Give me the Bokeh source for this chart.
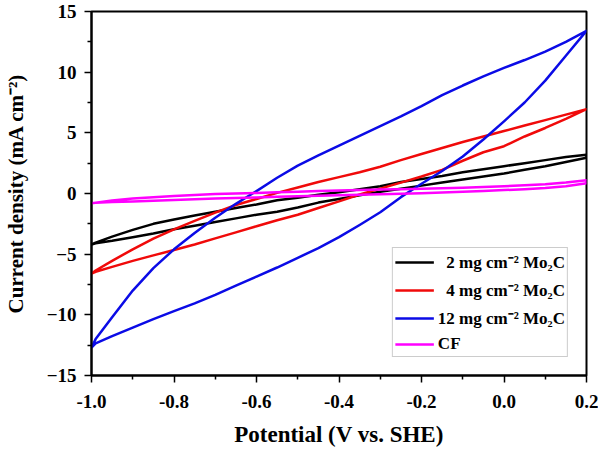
from bokeh.plotting import figure
from bokeh.models import Range1d, FixedTicker, NumeralTickFormatter, Legend, LegendItem
from bokeh.embed import file_html
from bokeh.resources import INLINE

# Potential grid (V vs. SHE)
potential = [-1.0, -0.99, -0.95, -0.9, -0.85, -0.8, -0.75, -0.7, -0.65, -0.6, -0.55, -0.5,
             -0.45, -0.4, -0.35, -0.3, -0.25, -0.2, -0.15, -0.1, -0.05, 0.0, 0.05, 0.1, 0.15, 0.2]

# Current density (mA cm^-2): anodic (forward) and cathodic (reverse) branches
mo2c_12_fwd = [-12.7, -12.0, -10.2, -8.0, -6.15, -4.6, -3.25, -2.0, -0.85, 0.2, 1.3, 2.3,
               3.15, 3.95, 4.75, 5.55, 6.35, 7.2, 8.1, 8.9, 9.65, 10.35, 11.0, 11.7, 12.5, 13.4]
mo2c_12_rev = [-12.7, -12.35, -11.75, -11.05, -10.35, -9.7, -9.05, -8.35, -7.6, -6.85, -6.1, -5.3,
               -4.5, -3.6, -2.6, -1.55, -0.3, 0.8, 1.85, 3.05, 4.45, 5.95, 7.5, 9.3, 11.35, 13.4]

mo2c_4_fwd = [-6.6, -6.35, -5.55, -4.6, -3.72, -2.95, -2.25, -1.58, -0.95, -0.45, 0.05, 0.5,
              0.95, 1.35, 1.75, 2.2, 2.75, 3.25, 3.75, 4.25, 4.7, 5.15, 5.6, 6.05, 6.5, 6.95]
mo2c_4_rev = [-6.6, -6.45, -6.05, -5.55, -5.1, -4.65, -4.2, -3.7, -3.2, -2.7, -2.2, -1.75,
              -1.2, -0.65, -0.08, 0.4, 0.9, 1.4, 1.95, 2.7, 3.4, 3.9, 4.7, 5.4, 6.15, 6.95]

mo2c_2_fwd = [-4.2, -4.05, -3.55, -3.0, -2.5, -2.15, -1.82, -1.5, -1.2, -0.9, -0.55, -0.35,
              -0.1, 0.1, 0.35, 0.6, 0.95, 1.2, 1.45, 1.75, 2.0, 2.25, 2.5, 2.75, 3.0, 3.2]
mo2c_2_rev = [-4.2, -4.1, -3.9, -3.6, -3.3, -2.95, -2.65, -2.35, -2.05, -1.75, -1.5, -1.15,
              -0.75, -0.45, -0.15, 0.15, 0.4, 0.65, 0.9, 1.15, 1.4, 1.65, 1.95, 2.25, 2.6, 2.95]

cf_fwd = [-0.8, -0.76, -0.58, -0.42, -0.3, -0.2, -0.12, -0.05, 0.0, 0.05, 0.1, 0.15,
          0.2, 0.24, 0.28, 0.32, 0.36, 0.4, 0.44, 0.48, 0.53, 0.6, 0.67, 0.76, 0.9, 1.1]
cf_rev = [-0.8, -0.77, -0.71, -0.65, -0.59, -0.53, -0.48, -0.42, -0.37, -0.32, -0.27, -0.22,
          -0.18, -0.14, -0.1, -0.06, -0.02, 0.03, 0.08, 0.14, 0.2, 0.28, 0.35, 0.45, 0.6, 0.85]

series_labels = ["\u20072 mg cm\u207b\u00b2 Mo\u2082C",
                 "\u20074 mg cm\u207b\u00b2 Mo\u2082C",
                 "12 mg cm\u207b\u00b2 Mo\u2082C",
                 "CF"]
series_colors = ["#000000", "#f00a0a", "#0b0be6", "#ff00ff"]

x_ticks = [-1.0, -0.8, -0.6, -0.4, -0.2, 0.0, 0.2]
x_minor = [-0.9, -0.7, -0.5, -0.3, -0.1, 0.1]
y_ticks = [-15, -10, -5, 0, 5, 10, 15]
y_minor = [-12.5, -7.5, -2.5, 2.5, 7.5, 12.5]

x_title = "Potential (V vs. SHE)"
y_title = "Current density (mA cm\u207b\u00b2)"

FONT = "Liberation Serif"

p = figure(width=598, height=449, output_backend="svg", toolbar_location=None,
           x_range=Range1d(-1.0, 0.2), y_range=Range1d(-15, 15),
           min_border_left=91, min_border_right=12, min_border_top=11, min_border_bottom=72)
p.xgrid.visible = False
p.ygrid.visible = False
p.outline_line_color = "black"
p.outline_line_width = 2
p.outline_line_alpha = 1.0

items = []
branches = [(mo2c_2_fwd, mo2c_2_rev), (mo2c_4_fwd, mo2c_4_rev),
            (mo2c_12_fwd, mo2c_12_rev), (cf_fwd, cf_rev)]
for (fwd, rev), lab, col in zip(branches, series_labels, series_colors):
    xs = potential + potential[::-1]
    ys = fwd + rev[::-1]
    r = p.line(xs, ys, line_color=col, line_width=2.5, line_join="round")
    items.append(LegendItem(label=lab, renderers=[r]))

legend = Legend(items=items, location="bottom_right", margin=18)
legend.label_text_font = FONT
legend.label_text_font_style = "bold"
legend.label_text_font_size = "17px"
legend.label_text_color = "black"
legend.glyph_width = 39
legend.glyph_height = 20
legend.label_height = 20
legend.spacing = 5
legend.padding = 2
legend.label_standoff = 4
legend.border_line_color = "#9a9a9a"
legend.border_line_width = 1.2
legend.background_fill_alpha = 1.0
p.add_layout(legend, "center")

p.xaxis.ticker = FixedTicker(ticks=x_ticks, minor_ticks=x_minor)
p.yaxis.ticker = FixedTicker(ticks=y_ticks, minor_ticks=y_minor)
p.xaxis.formatter = NumeralTickFormatter(format="0.0")

for ax in (p.xaxis[0], p.yaxis[0]):
    ax.axis_line_width = 2
    ax.major_tick_line_width = 1.5
    ax.minor_tick_line_width = 1.5
    ax.major_tick_in = 0
    ax.major_tick_out = 7
    ax.minor_tick_in = 0
    ax.minor_tick_out = 4
    ax.major_label_text_font = FONT
    ax.major_label_text_font_style = "bold"
    ax.major_label_text_font_size = "19px"
    ax.major_label_text_color = "black"
    ax.axis_label_text_font = FONT
    ax.axis_label_text_font_style = "bold"
    ax.axis_label_text_color = "black"

p.xaxis.axis_label = x_title
p.yaxis.axis_label = y_title
p.xaxis.axis_label_text_font_size = "23px"
p.yaxis.axis_label_text_font_size = "21px"
p.xaxis.major_label_standoff = 12
p.xaxis.axis_label_standoff = 11
p.yaxis.major_label_standoff = 8
p.yaxis.axis_label_standoff = 16

open("out.html", "w").write(file_html(p, INLINE))
